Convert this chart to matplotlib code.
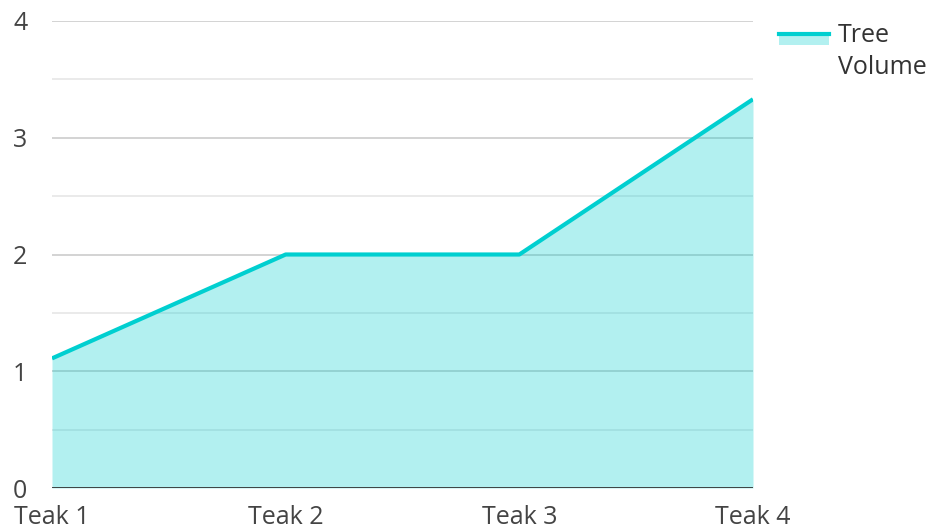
import matplotlib
matplotlib.use("Agg")
import matplotlib.pyplot as plt
from matplotlib.legend_handler import HandlerBase
from matplotlib.patches import Rectangle
from matplotlib.lines import Line2D

categories = ["Teak 1", "Teak 2", "Teak 3", "Teak 4"]
tree_volume = [1.11, 2.0, 2.0, 3.33]
series_name = "Tree\nVolume"
y_ticks = [0, 1, 2, 3, 4]

plt.rcParams['font.family'] = ['Open Sans', 'DejaVu Sans']

line_color = "#00cfd0"
fs = 18
fig = plt.figure(figsize=(9.28, 5.29), dpi=100)
ax = fig.add_axes([52/928, 41/529, (753-52)/928, (488-21)/529])

x = list(range(len(categories)))

# gridlines
for v in [0.5, 1.5, 2.5, 3.5]:
    ax.axhline(v, color="#e6e6e6", lw=1.2, zorder=1)
for v in [1, 2, 3, 4]:
    ax.axhline(v, color="#cccccc", lw=1.2, zorder=1)

ax.fill_between(x, tree_volume, 0, color=line_color, alpha=0.3, lw=0, zorder=2)
ax.plot(x, tree_volume, color=line_color, lw=3, zorder=3, solid_capstyle="butt")
ax.axhline(0, color="#333333", lw=2, zorder=4)

ax.set_xlim(0, len(categories) - 1)
ax.set_ylim(0, 4)
ax.set_xticks(x)
ax.set_xticklabels(categories)
ax.set_yticks(y_ticks)
ax.tick_params(axis="both", length=0, labelsize=fs, labelcolor="#444444")
ax.tick_params(axis="y", pad=28)
ax.tick_params(axis="x", pad=12)
for lab in ax.get_yticklabels():
    lab.set_horizontalalignment("left")
for s in ax.spines.values():
    s.set_visible(False)


class AreaHandler(HandlerBase):
    def create_artists(self, legend, orig_handle, xdescent, ydescent, width, height, fontsize, trans):
        ly = -ydescent + height * 0.85 + 9.4
        rect = Rectangle((-xdescent, ly - 1.1 - 7.2), width, 7.2,
                         facecolor=line_color, alpha=0.3, lw=0, transform=trans)
        ln = Line2D([-xdescent, -xdescent + width], [ly, ly],
                    color=line_color, lw=3, transform=trans)
        return [rect, ln]


proxy = Rectangle((0, 0), 1, 1)
leg = fig.legend([proxy], [series_name], handler_map={Rectangle: AreaHandler()},
                 loc="upper left", bbox_to_anchor=(779/928, 1 - 23/529),
                 frameon=False, fontsize=fs, handlelength=2.0, handleheight=0.55,
                 handletextpad=0.36, borderaxespad=0, borderpad=0)
for t in leg.get_texts():
    t.set_color("#333333")
    t.set_linespacing(1.35)

fig.savefig("out.png", dpi=100)
